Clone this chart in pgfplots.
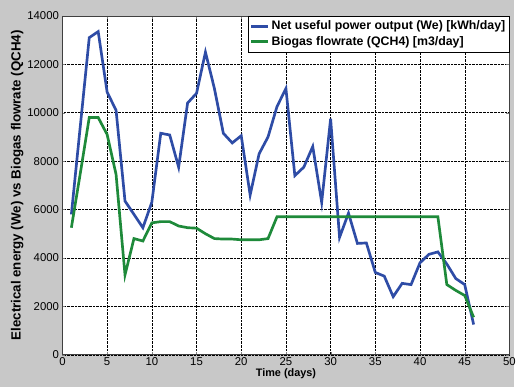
\documentclass[border=0pt]{standalone}
\usepackage{fontspec}
\setmainfont{Liberation Sans}
\usepackage{pgfplots}
\pgfplotsset{compat=1.18}
\definecolor{bggray}{RGB}{200,200,200}
\definecolor{mblue}{RGB}{46,76,166}
\definecolor{mgreen}{RGB}{30,138,58}
\begin{document}
\begin{tikzpicture}[x=1bp,y=1bp]
\fill[bggray] (0,0) rectangle (519,390);
\begin{axis}[
  at={(63bp,32bp)}, anchor=south west,
  scale only axis, width=451bp, height=342bp,
  xmin=0, xmax=50, ymin=0, ymax=14000,
  xtick={0,5,...,50}, ytick={0,2000,...,14000},
  axis background/.style={fill=white},
  grid=major, major grid style={black, densely dotted, line width=0.4pt},
  tick align=inside, major tick length=3bp,
  axis line style={black!75, line width=0.6pt},
  ticklabel style={font=\fontsize{11.5}{13}\selectfont},
  xticklabel style={yshift=1bp},
  /pgf/number format/assume math mode=true,
  /pgf/number format/set thousands separator={},
  scaled y ticks=false,
  xlabel={\bfseries Time (days)},
  ylabel={\bfseries Electrical energy (We) vs Biogas flowrate (QCH4)},
  xlabel style={font=\fontsize{11}{12}\selectfont, yshift=3.5bp},
  ylabel style={font=\fontsize{13.5}{15}\selectfont, yshift=-3bp},
  legend style={at={(1,1)}, anchor=north east, draw=black, fill=white,
    font=\fontsize{12.5}{14}\selectfont\bfseries, row sep=1bp, inner ysep=3bp, inner xsep=2bp},
  legend cell align=left,
  legend image post style={line width=2.8pt},
]
\addplot[mblue, line width=2.7pt] coordinates {
(1,5800)(2,9450)(3,13100)(4,13350)(5,10850)(6,10100)(7,6350)(8,5800)(9,5250)(10,6300)
(11,9150)(12,9080)(13,7750)(14,10400)(15,10800)(16,12500)(17,11000)(18,9150)(19,8750)(20,9050)
(21,6600)(22,8300)(23,9000)(24,10250)(25,11000)(26,7400)(27,7750)(28,8600)(29,6300)(30,9750)
(31,4850)(32,5850)(33,4600)(34,4620)(35,3400)(36,3250)(37,2400)(38,2950)(39,2900)(40,3800)
(41,4150)(42,4250)(43,3750)(44,3150)(45,2900)(46,1250)};
\addlegendentry{Net useful power output (We) [kWh/day]}
\addplot[mgreen, line width=2.7pt] coordinates {
(1,5250)(2,7500)(3,9800)(4,9800)(5,9100)(6,7450)(7,3300)(8,4800)(9,4700)(10,5450)
(11,5500)(12,5500)(13,5320)(14,5250)(15,5230)(16,5000)(17,4800)(18,4780)(19,4780)(20,4750)
(21,4750)(22,4750)(23,4800)(24,5700)(25,5700)(26,5700)(27,5700)(28,5700)(29,5700)(30,5700)
(31,5700)(32,5700)(33,5700)(34,5700)(35,5700)(36,5700)(37,5700)(38,5700)(39,5700)(40,5700)
(41,5700)(42,5700)(43,2900)(44,2660)(45,2450)(46,1550)};
\addlegendentry{Biogas flowrate (QCH4) [m3/day]}
\end{axis}
\path[use as bounding box] (0,0) rectangle (519,390);
\end{tikzpicture}
\end{document}
